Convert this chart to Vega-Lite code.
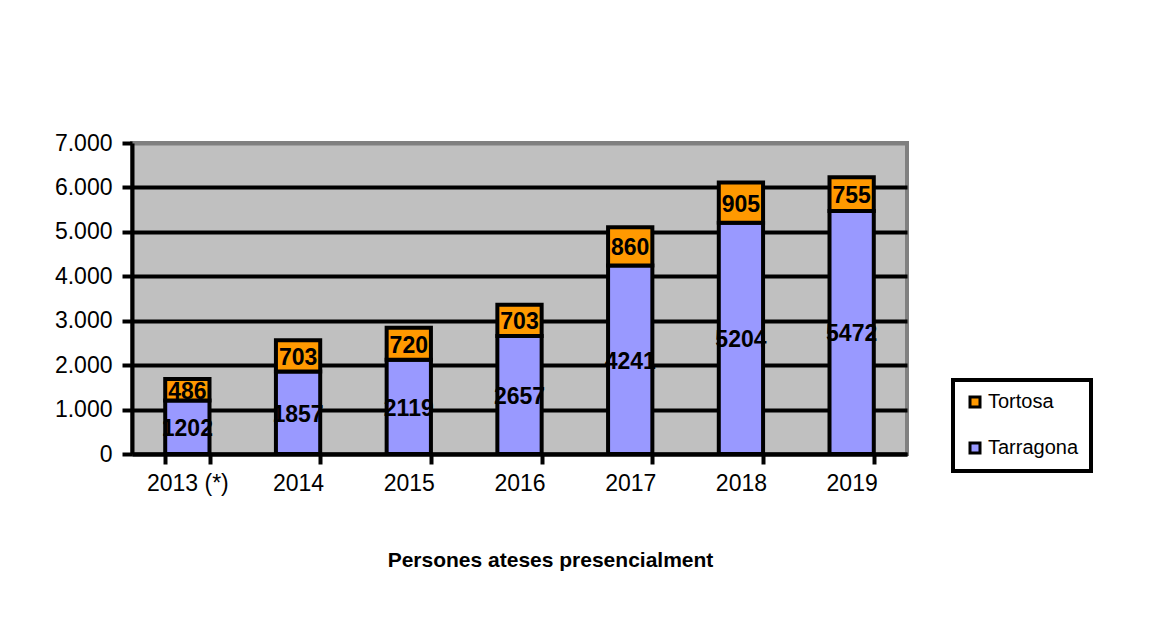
{
  "$schema": "https://vega.github.io/schema/vega-lite/v6.json",
  "width": 775,
  "height": 311,
  "autosize": "none",
  "padding": {"left": 132, "top": 143, "right": 268, "bottom": 167},
  "background": "white",
  "data": {
    "values": [
      {"any": "2013 (*)", "serie": "Tarragona", "v": 1202},
      {"any": "2013 (*)", "serie": "Tortosa", "v": 486},
      {"any": "2014", "serie": "Tarragona", "v": 1857},
      {"any": "2014", "serie": "Tortosa", "v": 703},
      {"any": "2015", "serie": "Tarragona", "v": 2119},
      {"any": "2015", "serie": "Tortosa", "v": 720},
      {"any": "2016", "serie": "Tarragona", "v": 2657},
      {"any": "2016", "serie": "Tortosa", "v": 703},
      {"any": "2017", "serie": "Tarragona", "v": 4241},
      {"any": "2017", "serie": "Tortosa", "v": 860},
      {"any": "2018", "serie": "Tarragona", "v": 5204},
      {"any": "2018", "serie": "Tortosa", "v": 905},
      {"any": "2019", "serie": "Tarragona", "v": 5472},
      {"any": "2019", "serie": "Tortosa", "v": 755}
    ]
  },
  "config": {
    "font": "Liberation Sans",
    "view": {"fill": "#C0C0C0", "stroke": "#808080", "strokeWidth": 4},
    "legend": {"strokeWidth": 4}
  },
  "encoding": {
    "x": {
      "field": "any",
      "type": "ordinal",
      "sort": null,
      "scale": {"paddingInner": 0.6, "paddingOuter": 0.3},
      "axis": {
        "labelAngle": 0,
        "labelFontSize": 23,
        "labelColor": "black",
        "labelPadding": 8,
        "tickBand": "extent",
        "tickColor": "black",
        "tickWidth": 4,
        "tickSize": 10,
        "domainColor": "black",
        "domainWidth": 4,
        "grid": false,
        "title": "Persones ateses presencialment",
        "titleFontSize": 21,
        "titleFontWeight": "bold",
        "titleColor": "black",
        "titleX": 418,
        "titleY": 106,
        "titleAlign": "center",
        "titleBaseline": "middle"
      }
    }
  },
  "layer": [
    {
      "mark": {"type": "bar", "stroke": "black", "strokeWidth": 4},
      "encoding": {
        "y": {
          "field": "v",
          "type": "quantitative",
          "stack": "zero",
          "scale": {"domain": [0, 7000]},
          "axis": {
            "title": null,
            "values": [0, 1000, 2000, 3000, 4000, 5000, 6000, 7000],
            "labelExpr": "replace(format(datum.value, ','), ',', '.')",
            "labelFontSize": 23,
            "labelColor": "black",
            "labelPadding": 10,
            "tickColor": "black",
            "tickWidth": 4,
            "tickSize": 10,
            "domainColor": "black",
            "domainWidth": 4,
            "gridColor": {"condition": {"test": "datum.value === 7000", "value": "#808080"}, "value": "black"},
            "gridWidth": 4,
            "gridOpacity": 1
          }
        },
        "color": {
          "field": "serie",
          "type": "nominal",
          "scale": {"domain": ["Tortosa", "Tarragona"], "range": ["#FF9900", "#9999FF"]},
          "legend": {
            "orient": "none",
            "legendX": 821,
            "legendY": 237,
            "title": null,
            "strokeColor": "black",
            "fillColor": "white",
            "padding": 12,
            "symbolType": "square",
            "symbolSize": 100,
            "symbolStrokeColor": "black",
            "symbolStrokeWidth": 3,
            "labelFontSize": 20,
            "labelColor": "black",
            "labelOffset": 3,
            "rowPadding": 24
          }
        },
        "order": {"field": "serie", "sort": "ascending"}
      }
    },
    {
      "transform": [
        {"stack": "v", "groupby": ["any"], "sort": [{"field": "serie", "order": "ascending"}], "as": ["y0", "y1"]},
        {"calculate": "(datum.y0 + datum.y1) / 2", "as": "mid"}
      ],
      "mark": {"type": "text", "fontWeight": "bold", "fontSize": 23, "color": "black", "baseline": "middle", "dy": 2},
      "encoding": {
        "y": {"field": "mid", "type": "quantitative"},
        "text": {"field": "v", "type": "quantitative", "format": "d"}
      }
    }
  ]
}
